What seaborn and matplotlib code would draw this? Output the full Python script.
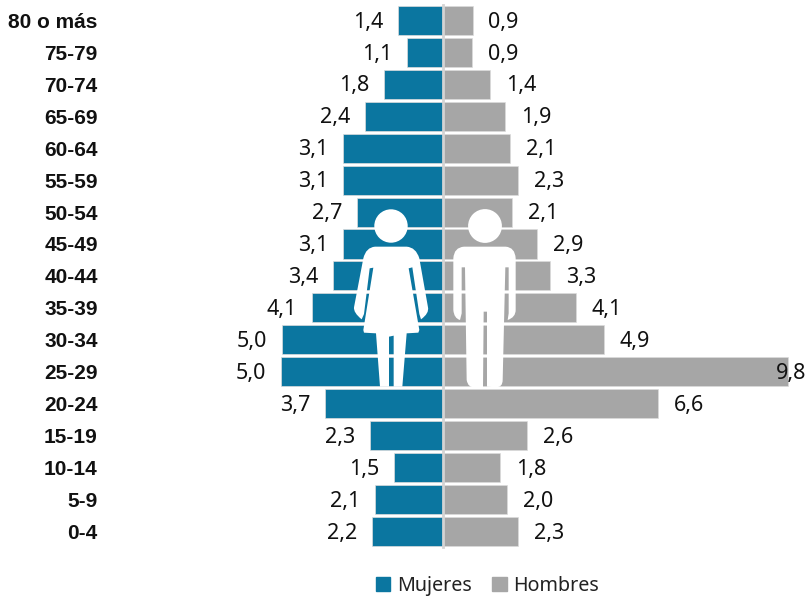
import matplotlib
matplotlib.use("Agg")
import matplotlib.pyplot as plt
import pandas as pd
import seaborn as sns
from matplotlib.patches import Circle, PathPatch, Patch
from matplotlib.path import Path

# Age groups, top row first
EDADES = ["80 o más", "75-79", "70-74", "65-69", "60-64", "55-59", "50-54", "45-49", "40-44",
          "35-39", "30-34", "25-29", "20-24", "15-19", "10-14", "5-9", "0-4"]

# Printed labels
ETIQ_MUJERES = ["1,4", "1,1", "1,8", "2,4", "3,1", "3,1", "2,7", "3,1", "3,4",
                "4,1", "5,0", "5,0", "3,7", "2,3", "1,5", "2,1", "2,2"]
ETIQ_HOMBRES = ["0,9", "0,9", "1,4", "1,9", "2,1", "2,3", "2,1", "2,9", "3,3",
                "4,1", "4,9", "9,8", "6,6", "2,6", "1,8", "2,0", "2,3"]

# Bar lengths as drawn (the drawn bars do not always agree with the printed label)
MUJERES = [1.38, 1.10, 1.80, 2.38, 3.05, 3.05, 2.63, 3.05, 3.36,
           4.00, 4.91, 4.94, 3.60, 2.23, 1.50, 2.08, 2.17]
HOMBRES = [0.90, 0.87, 1.44, 1.90, 2.05, 2.30, 2.11, 2.88, 3.25,
           4.05, 4.90, 10.52, 6.55, 2.55, 1.75, 1.96, 2.30]

AZUL = "#0b76a0"
GRIS = "#a6a6a6"
FUENTE = "Noto Sans"

# figure is laid out in pixels
ANCHO, ALTO = 808, 598
CENTRO_X = 443.0
PX_UNIDAD = 32.8
FILA_0 = 20.4
PX_FILA = 31.94

df = pd.DataFrame({
    "edad": EDADES * 2,
    "sexo": ["Mujeres"] * len(EDADES) + ["Hombres"] * len(EDADES),
    "valor": [-v for v in MUJERES] + HOMBRES,
})

sns.set_theme(style="white")
fig = plt.figure(figsize=(ANCHO / 100, ALTO / 100), dpi=100)
ax = fig.add_axes([0, 0, 1, 1])
ax.patch.set_alpha(0)

sns.barplot(
    data=df, x="valor", y="edad", hue="sexo", order=EDADES, dodge=False,
    palette={"Mujeres": AZUL, "Hombres": GRIS}, saturation=1, width=0.91,
    edgecolor="#dcdcdc", linewidth=0.5, legend=False, ax=ax,
)

ax.set_xlim(-CENTRO_X / PX_UNIDAD, (ANCHO - CENTRO_X) / PX_UNIDAD)
ax.set_ylim((ALTO - FILA_0) / PX_FILA, -FILA_0 / PX_FILA)
ax.set_xlabel("")
ax.set_ylabel("")
ax.xaxis.set_visible(False)

for lado in ["top", "right", "bottom"]:
    ax.spines[lado].set_visible(False)
ax.spines["left"].set_position(("data", 0))
ax.spines["left"].set_color("#d4d4d4")
ax.spines["left"].set_linewidth(2)
ax.spines["left"].set_bounds(-0.48, len(EDADES) - 0.52)

# tick labels sit far to the left of the centre axis
ax.tick_params(axis="y", length=4, width=1, color="#dcdcdc", pad=244.5)
for t in ax.get_yticklabels():
    t.set_fontfamily("Liberation Sans")
    t.set_fontweight("bold")
    t.set_fontsize(15)
    t.set_color("#111111")

# data labels
for i, (m, h) in enumerate(zip(MUJERES, HOMBRES)):
    ax.annotate(ETIQ_MUJERES[i], (-m, i), xytext=(-10.5, -1.2), textcoords="offset points",
                ha="right", va="center", fontsize=15.5, family=FUENTE, color="#111111")
    # the 9,8 label overlaps the end of its long bar
    off = 11.5 if h < 10 else -8.5
    ax.annotate(ETIQ_HOMBRES[i], (h, i), xytext=(off, -1.2), textcoords="offset points",
                ha="left", va="center", fontsize=15.5, family=FUENTE, color="#111111")

ax.legend(
    handles=[Patch(color=AZUL, label="Mujeres"), Patch(color=GRIS, label="Hombres")],
    ncol=2, frameon=False, loc="center", bbox_to_anchor=(487.5 / ANCHO, 1 - 586 / ALTO),
    handlelength=0.75, handleheight=0.75, handletextpad=0.35, columnspacing=1.0,
    prop={"family": FUENTE, "size": 14.2}, labelcolor="#222222",
)

# pictograms on a pixel overlay
capa = fig.add_axes([0, 0, 1, 1])
capa.set_xlim(0, ANCHO)
capa.set_ylim(ALTO, 0)
capa.axis("off")


def silueta(trazos):
    """Builds a path from (x, y) points and (ctrl, end) curve pairs in 3x crop coordinates."""
    verts, codes = [], []
    for n, tr in enumerate(trazos):
        if len(tr) == 2 and isinstance(tr[0], tuple):
            for p in tr:
                verts.append((p[0] / 3 + 340, p[1] / 3 + 190))
                codes.append(Path.CURVE3)
        else:
            verts.append((tr[0] / 3 + 340, tr[1] / 3 + 190))
            codes.append(Path.MOVETO if n == 0 else Path.LINETO)
    verts.append(verts[0])
    codes.append(Path.CLOSEPOLY)
    return Path(verts, codes)


MUJER = [
    (105, 170), ((78, 172), (70, 205)), (42, 352), ((40, 368), (65, 388)), (72, 372), (89, 235), (100, 233),
    (70, 420), (72, 428), (108, 430), (120, 590), (147, 590), (147, 440), (161, 437), (161, 590),
    (187, 590), (200, 430), (235, 428), (238, 420), (206, 235), (217, 232), (238, 372), (243, 388),
    ((268, 370), (264, 352)), (238, 205), ((228, 172), (200, 170)),
]
HOMBRE = [
    (372, 170), ((342, 172), (340, 205)), (340, 360), ((342, 385), (360, 390)), (365, 370), (365, 232), (375, 232),
    (380, 570), ((384, 594), (405, 592)), (429, 592), (431, 365), (441, 365), (441, 590), (468, 592),
    ((488, 592), (488, 570)), (496, 232), (506, 232), (506, 370), (503, 390),
    ((527, 382), (527, 360)), (527, 205), ((525, 172), (497, 170)),
]

for trazos in [MUJER, HOMBRE]:
    capa.add_patch(PathPatch(silueta(trazos), facecolor="white", edgecolor="none", lw=0))
capa.add_patch(Circle((391, 226), 16.7, color="white", lw=0))
capa.add_patch(Circle((485, 226), 16.9, color="white", lw=0))

fig.savefig("out.png", dpi=100)
plt.close(fig)
